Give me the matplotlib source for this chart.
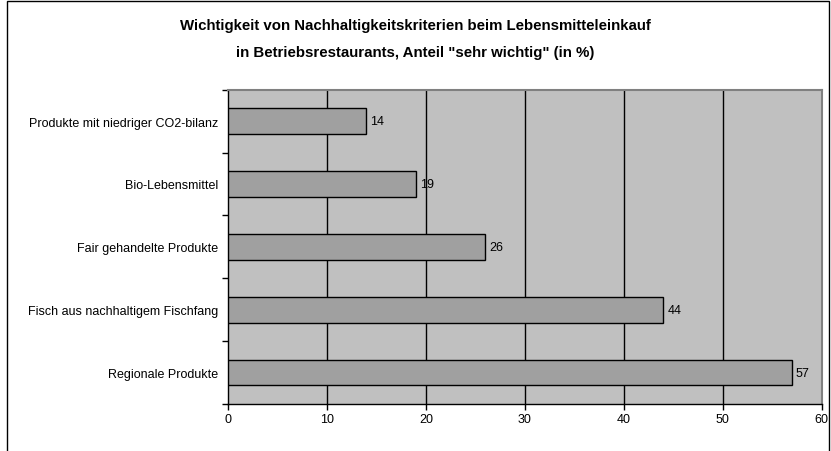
import matplotlib
matplotlib.use("Agg")
import matplotlib.pyplot as plt
from matplotlib.patches import Rectangle

plt.rcParams['font.family'] = ["Liberation Sans", 'DejaVu Sans']

categories = [
    "Produkte mit niedriger CO2-bilanz",
    "Bio-Lebensmittel",
    "Fair gehandelte Produkte",
    "Fisch aus nachhaltigem Fischfang",
    "Regionale Produkte",
]
values = [14, 19, 26, 44, 57]
xticks = [0, 10, 20, 30, 40, 50, 60]
title = ("Wichtigkeit von Nachhaltigkeitskriterien beim Lebensmitteleinkauf\n"
         "in Betriebsrestaurants, Anteil \"sehr wichtig\" (in %)")

W, H = 831, 452
fig = plt.figure(figsize=(W / 100, H / 100), dpi=100)
fig.patch.set_facecolor("white")

# outer chart frame
fig.patches.append(Rectangle((7 / W, -0.05), (829 - 7) / W, 1.05 - 2 / H,
                             transform=fig.transFigure, fill=False,
                             edgecolor="black", linewidth=1.0))

left, right, top, bottom = 228, 821.5, 90.7, 405
ax = fig.add_axes([left / W, 1 - bottom / H, (right - left) / W, (bottom - top) / H])
ax.set_facecolor("#C0C0C0")

ypos = list(range(len(categories)))
ax.barh(ypos, values, height=0.41, color="#A0A0A0", edgecolor="black",
        linewidth=1.0, zorder=3)
for y, v in zip(ypos, values):
    ax.text(v + 0.4, y, f"{v}", va="center", ha="left", fontsize=9, zorder=4)

ax.set_xlim(0, 60)
ax.set_ylim(len(categories) - 0.5, -0.5)
ax.set_xticks(xticks)
ax.set_xticklabels([str(t) for t in xticks], fontsize=9)
ax.set_yticks(ypos)
ax.set_yticklabels(categories, fontsize=9)
ax.set_yticks([i - 0.5 for i in range(len(categories) + 1)], minor=True)
ax.tick_params(axis="y", which="major", length=0, pad=7)
ax.tick_params(axis="y", which="minor", length=4, width=1, direction="out")
ax.tick_params(axis="x", length=4, width=1, direction="out", pad=2.5)

for x in xticks[1:-1]:
    ax.axvline(x, color="black", linewidth=1.0, zorder=1)

for s in ("left", "bottom"):
    ax.spines[s].set_color("black")
    ax.spines[s].set_linewidth(1.0)
for s in ("top", "right"):
    ax.spines[s].set_color("#808080")
    ax.spines[s].set_linewidth(1.5)

fig.text(0.5, 1 - 39.5 / H, title, ha="center", va="center",
         fontsize=10.8, fontweight="bold", linespacing=2.2)

fig.savefig("out.png", dpi=100)
